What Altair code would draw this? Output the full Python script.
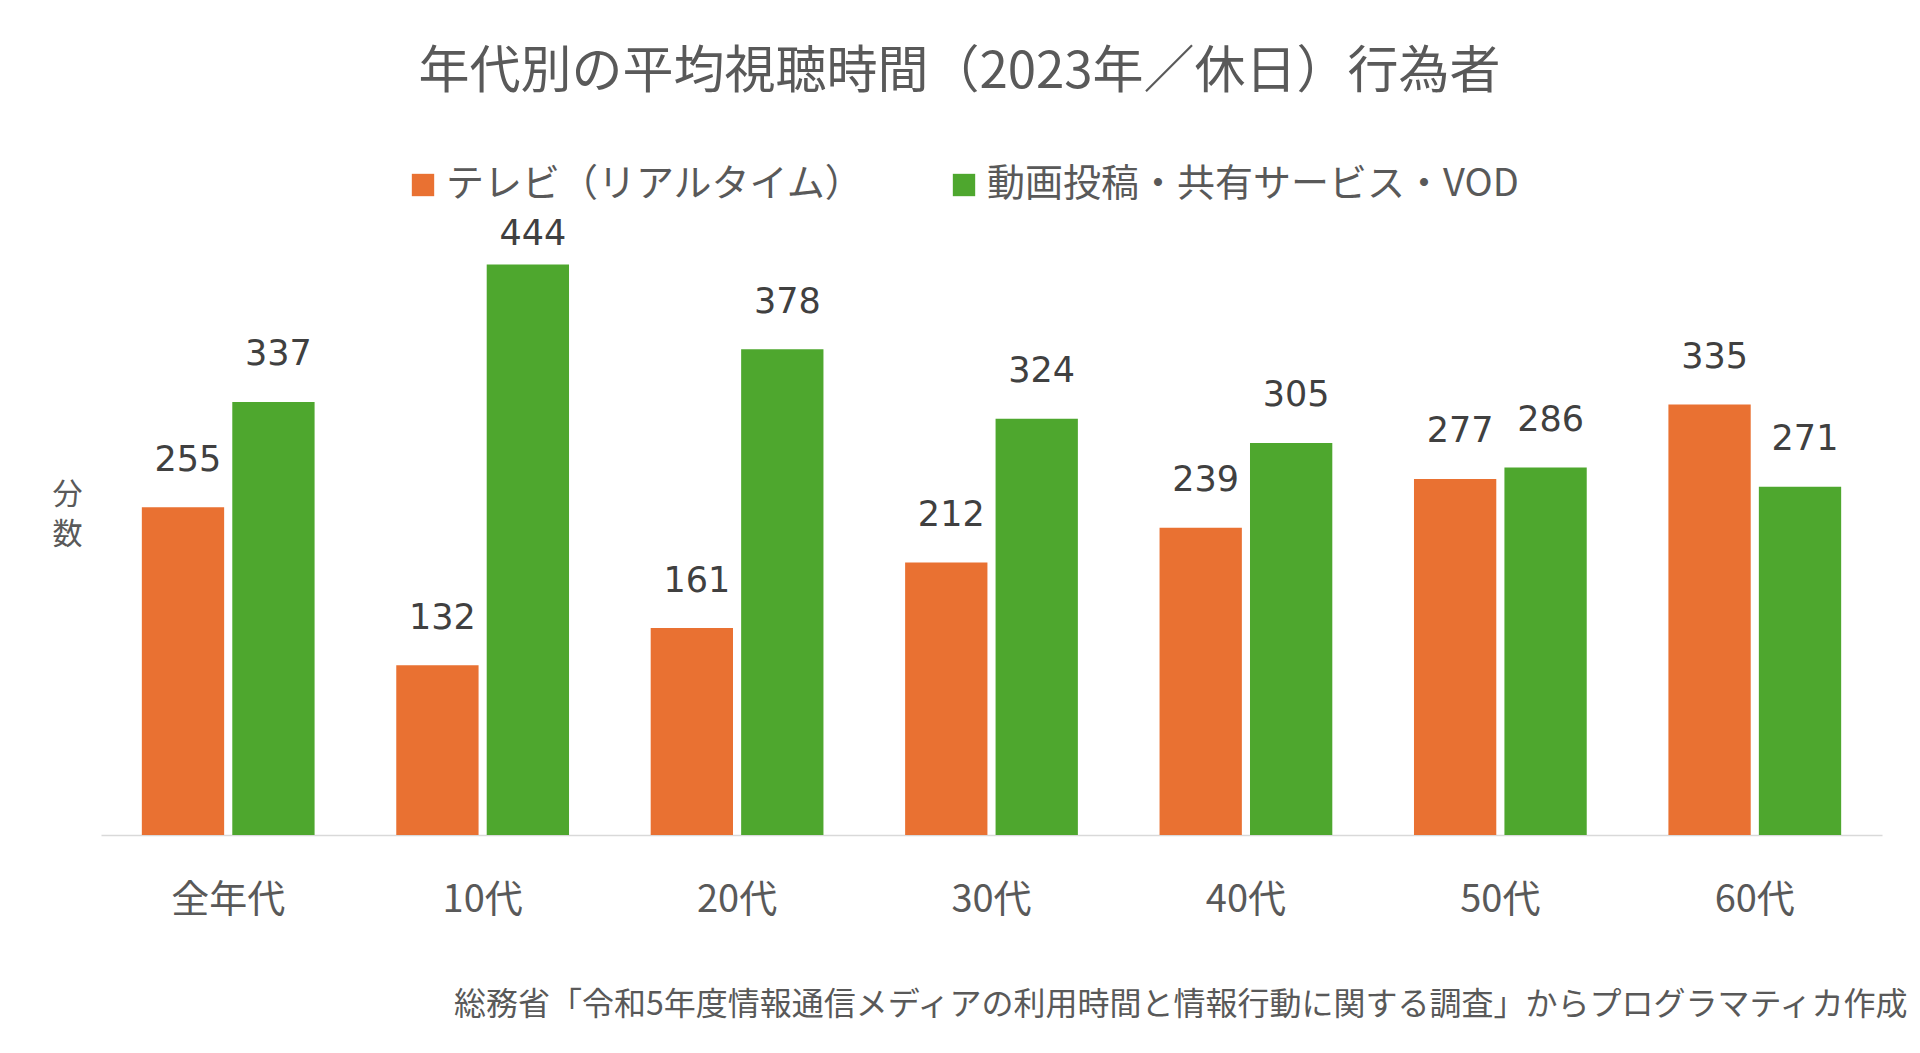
import altair as alt
import pandas as pd

categories = ["全年代", "10代", "20代", "30代", "40代", "50代", "60代"]
series_names = ["テレビ（リアルタイム）", "動画投稿・共有サービス・VOD"]
tv_values = [255, 132, 161, 212, 239, 277, 335]
vod_values = [337, 444, 378, 324, 305, 286, 271]
colors = ["#E97132", "#4EA72E"]

rows = []
for c, t, v in zip(categories, tv_values, vod_values):
    rows.append({"cat": c, "series": series_names[0], "value": t})
    rows.append({"cat": c, "series": series_names[1], "value": v})
df = pd.DataFrame(rows)

JP = "Noto Sans CJK JP"
SOURCE = "総務省「令和5年度情報通信メディアの利用時間と情報行動に関する調査」からプログラマティカ作成"

x_enc = alt.X(
    "cat:N",
    sort=categories,
    scale=alt.Scale(paddingInner=0.321, paddingOuter=0.1605),
    axis=alt.Axis(
        title=SOURCE,
        titleFont=JP,
        titleFontSize=32,
        titleFontWeight="normal",
        titleColor="#595959",
        titleAnchor="end",
        titleAlign="right",
        titleX=1806,
        titleY=154,
        titleBaseline="top",
        labelAngle=0,
        labelFont=JP,
        labelFontSize=38,
        labelColor="#595959",
        labelPadding=46,
        ticks=False,
        domainColor="#D9D9D9",
        domainWidth=1.5,
    ),
)
xoff = alt.XOffset(
    "series:N",
    sort=series_names,
    scale=alt.Scale(paddingInner=0.09, paddingOuter=0),
)

y_scale = alt.Scale(domain=[0, 470], nice=False)

bars = alt.Chart(df).mark_bar().encode(
    x=x_enc,
    xOffset=xoff,
    y=alt.Y(
        "value:Q",
        scale=y_scale,
        axis=alt.Axis(
            title=["分", "数"],
            titleFont=JP,
            titleFontSize=30,
            titleFontWeight="normal",
            titleColor="#595959",
            titleAngle=0,
            titleAlign="center",
            titleBaseline="top",
            titleLineHeight=40,
            titleX=-34,
            titleY=248,
            labels=False,
            ticks=False,
            domain=False,
            grid=False,
        ),
    ),
    color=alt.Color(
        "series:N",
        sort=series_names,
        scale=alt.Scale(domain=series_names, range=colors),
        legend=alt.Legend(
            title=None,
            orient="none",
            direction="horizontal",
            legendX=303,
            legendY=-65,
            symbolType="square",
            symbolSize=500,
            symbolStrokeWidth=0,
            symbolOpacity=1,
            labelFont=JP,
            labelFontSize=38,
            labelColor="#595959",
            labelOffset=4,
            labelLimit=1000,
            columnPadding=80,
        ),
    ),
)

labels = alt.Chart(df).transform_calculate(
    label_y="min(datum.value + 37, 468)"
).mark_text(
    font="DejaVu Sans",
    fontSize=35,
    color="#404040",
    baseline="middle",
    align="center",
    dx=5,
).encode(
    x=alt.X("cat:N", sort=categories),
    xOffset=alt.XOffset("series:N", sort=series_names),
    y=alt.Y("label_y:Q", scale=y_scale),
    text=alt.Text("value:Q"),
)

chart = alt.layer(bars, labels).properties(
    width=1781,
    height=604,
    autosize=alt.AutoSizeParams(type="none"),
    padding={"left": 93, "top": 223, "right": 30, "bottom": 200},
    title=alt.TitleParams(
        text="年代別の平均視聴時間（2023年／休日）行為者",
        font=JP,
        fontSize=51,
        fontWeight="normal",
        color="#595959",
        anchor="middle",
        frame="group",
        dx=-32,
        dy=-67,
        offset=0,
    ),
).configure_view(stroke=None)

chart.save("out.html", embed_options={"renderer": "svg", "actions": False})
